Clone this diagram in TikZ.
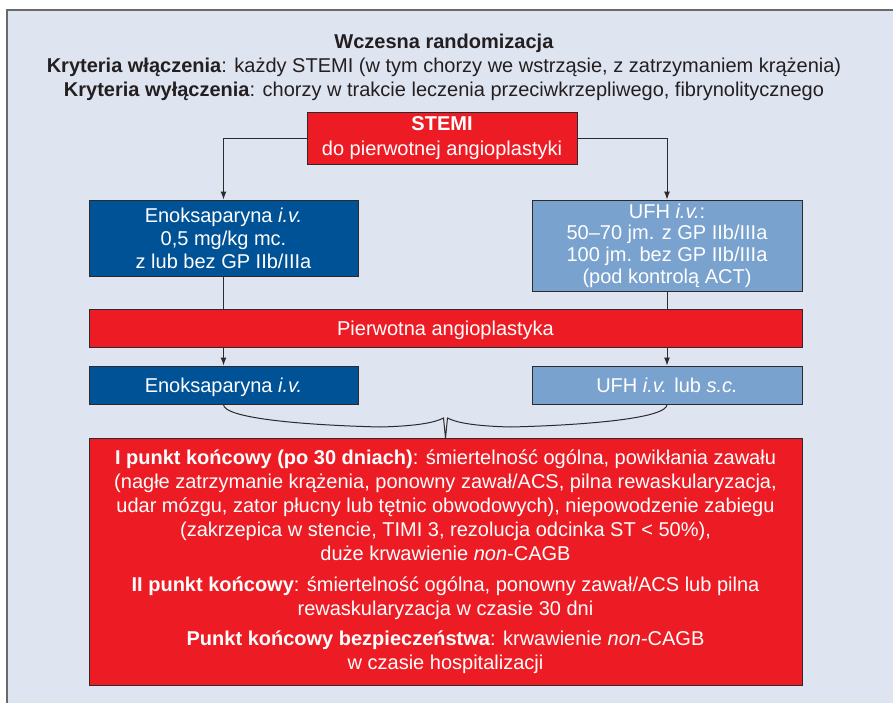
\documentclass[tikz,border=0pt]{standalone}
\usepackage{fontspec}
\setmainfont{Liberation Sans}
\usepackage{tikz}
\usetikzlibrary{arrows.meta}
\definecolor{panelbg}{RGB}{223,228,241}
\definecolor{panelline}{RGB}{105,105,105}
\definecolor{boxline}{RGB}{45,42,44}
\definecolor{inktext}{RGB}{35,31,32}
\definecolor{stemired}{RGB}{237,28,36}
\definecolor{enoxblue}{RGB}{0,82,150}
\definecolor{ufhblue}{RGB}{122,162,206}

\begin{document}
\begin{tikzpicture}[x=0.75pt, y=-0.75pt,
    box/.style={rectangle, draw=boxline, line width=0.75pt, text=white, align=center, inner sep=0pt, font=\fontsize{15}{17.25}\selectfont},
    redbox/.style={box, fill=stemired},
    darkbox/.style={box, fill=enoxblue},
    lightbox/.style={box, fill=ufhblue},
    oneline/.style={minimum height=28.5pt, text depth=0pt},
    link/.style={draw=boxline, line width=0.75pt},
    arr/.style={link, -{Latex[length=6pt,width=4.5pt]}}]
            \useasboundingbox (0,0) rectangle (893,703);
            % Panel
            \fill[panelbg] (7,10) rectangle (893,703);
            \draw[panelline, line width=1.5pt] (7,703) -- (7,10) -- (893,10);
            % Heading
            \node[align=center, text=inktext, font=\fontsize{15}{18}\selectfont] (head) at (444,67)
                {\textbf{Wczesna randomizacja}\\
                 \textbf{Kryteria włączenia}: każdy STEMI (w tym chorzy we wstrząsie, z zatrzymaniem krążenia)\\
                 \textbf{Kryteria wyłączenia}: chorzy w trakcie leczenia przeciwkrzepliwego, fibrynolitycznego};
            % STEMI
            \node[redbox, minimum width=202.5pt, minimum height=39pt, font=\fontsize{15}{18.5}\selectfont] (stemi) at (442,138)
                {\textbf{STEMI}\\do pierwotnej angioplastyki};
            % Anticoagulation before PCI
            \node[darkbox, minimum width=201.75pt, minimum height=57pt] (enox) at (223.5,238)
                {Enoksaparyna \textit{i.v.}\\0,5 mg/kg mc.\\z lub bez GP IIb/IIIa};
            \node[lightbox, minimum width=202.5pt, minimum height=68.25pt, font=\fontsize{15}{16.25}\selectfont] (ufh) at (667,245.5)
                {UFH \textit{i.v.}:\\50–70 jm. z GP IIb/IIIa\\100 jm. bez GP IIb/IIIa\\(pod kontrolą ACT)};
            % PCI
            \node[redbox, oneline, minimum width=534.75pt] (pci) at (445.5,328) {Pierwotna angioplastyka};
            % Anticoagulation after PCI
            \node[darkbox, oneline, minimum width=201.75pt] (enox2) at (223.5,385) {Enoksaparyna \textit{i.v.}};
            \node[lightbox, oneline, minimum width=202.5pt] (ufh2) at (667,385) {UFH \textit{i.v.} lub \textit{s.c.}};
            % Endpoints
            \node[redbox, minimum width=534.75pt, minimum height=185.25pt, font=\fontsize{15}{18}\selectfont] (ends) at (445.5,562)
                {\textbf{I punkt końcowy (po 30 dniach)}: śmiertelność ogólna, powikłania zawału\\
                 (nagłe zatrzymanie krążenia, ponowny zawał/ACS, pilna rewaskularyzacja,\\
                 udar mózgu, zator płucny lub tętnic obwodowych), niepowodzenie zabiegu\\
                 (zakrzepica w stencie, TIMI 3, rezolucja odcinka ST < 50\%),\\
                 duże krwawienie \textit{non}-CAGB\\[5pt]
                 \textbf{II punkt końcowy}: śmiertelność ogólna, ponowny zawał/ACS lub pilna\\
                 rewaskularyzacja w czasie 30 dni\\[5pt]
                 \textbf{Punkt końcowy bezpieczeństwa}: krwawienie \textit{non}-CAGB\\
                 w czasie hospitalizacji};
            % Arrows
            \draw[arr] (stemi.west) -| (enox.north);
            \draw[arr] (stemi.east) -| (ufh.north);
            \draw[link] (enox.south) -- (enox.south |- pci.north);
            \draw[link] (ufh.south) -- (ufh.south |- pci.north);
            \draw[arr] (pci.south -| enox2.north) -- (enox2.north);
            \draw[arr] (pci.south -| ufh2.north) -- (ufh2.north);
            % Brace
            \draw[link] (enox2.south) .. controls (223.5,418) and (300,425) .. (380,427)
                .. controls (420,426) and (436,422) .. (443.5,418) -- (ends.north)
                -- (447.5,418) .. controls (455,422) and (471,426) .. (511,427)
                .. controls (590,425) and (667,418) .. (ufh2.south);
        \end{tikzpicture}
\end{document}
